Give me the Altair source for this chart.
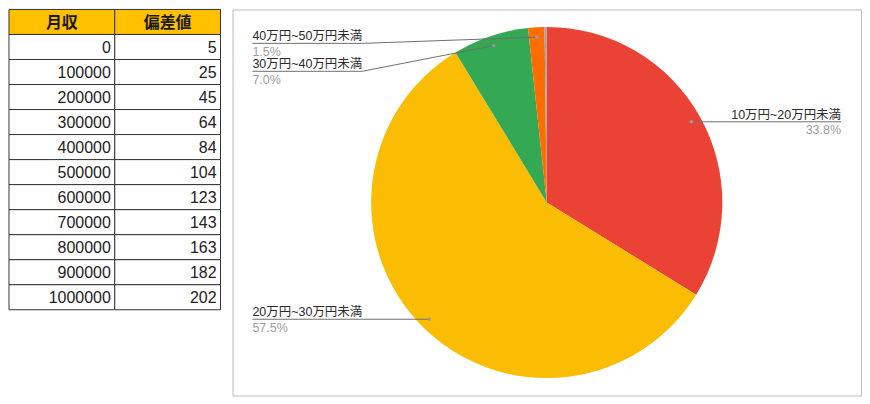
import math
import altair as alt
import pandas as pd

# ---- table data ----
table_headers = ["月収", "偏差値"]
incomes = [0, 100000, 200000, 300000, 400000, 500000, 600000, 700000, 800000, 900000, 1000000]
scores = [5, 25, 45, 64, 84, 104, 123, 143, 163, 182, 202]

# ---- pie data ----
slice_names = ["10万円~20万円未満", "20万円~30万円未満", "30万円~40万円未満", "40万円~50万円未満", "50万円以上"]
slice_values = [33.8, 57.5, 7.0, 1.5, 0.2]
slice_colors = ["#EA4335", "#FBBC04", "#34A853", "#FF6D01", "#A3A3A3"]

FONT = "Liberation Sans, Arial, Noto Sans CJK JP, sans-serif"

# ================= table =================
TW, TH = 212, 301
cells = []
for c, h in enumerate(table_headers):
    cells.append({"row": 0, "col": c, "text": h, "kind": "header"})
for i, (a, b) in enumerate(zip(incomes, scores)):
    cells.append({"row": i + 1, "col": 0, "text": str(a), "kind": "body"})
    cells.append({"row": i + 1, "col": 1, "text": str(b), "kind": "body"})
tdf = pd.DataFrame(cells)

band = alt.Scale(paddingInner=0, paddingOuter=0)
tbase = alt.Chart(tdf)
rects = tbase.mark_rect(stroke="#333333", strokeWidth=1).encode(
    x=alt.X("col:O", scale=band, axis=None),
    y=alt.Y("row:O", scale=band, axis=None),
    fill=alt.Fill("kind:N", scale=alt.Scale(domain=["header", "body"], range=["#FFC000", "#FFFFFF"]), legend=None),
)
htext = tbase.transform_filter("datum.kind == 'header'").mark_text(
    font=FONT, fontSize=16, fontWeight="bold", color="#1a1a1a", baseline="middle", align="center", dy=1
).encode(
    x=alt.X("col:O", scale=band, axis=None, bandPosition=0.5),
    y=alt.Y("row:O", scale=band, axis=None, bandPosition=0.5),
    text="text:N",
)
btext = tbase.transform_filter("datum.kind == 'body'").mark_text(
    font=FONT, fontSize=16, color="#222222", baseline="middle", align="right", dx=-4, dy=1
).encode(
    x=alt.X("col:O", scale=band, axis=None, bandPosition=1),
    y=alt.Y("row:O", scale=band, axis=None, bandPosition=0.5),
    text="text:N",
)
table = alt.layer(rects, htext, btext).properties(
    width=TW, height=TH, view=alt.ViewBackground(strokeWidth=0)
)

# ================= pie =================
PW, PH = 630, 387
cx, cy = PW / 2, PH / 2
R_OUT = 176
R_ANCHOR = 166
total = sum(slice_values)

pie_df = pd.DataFrame({"name": slice_names, "value": slice_values, "idx": list(range(len(slice_names)))})

# label layout derived from the slice values
labels = []
cum = 0.0
for name, v in zip(slice_names, slice_values):
    mid = (cum + v / 2) / total * 2 * math.pi
    cum += v
    if v < 1:
        continue
    dx_ = cx + R_ANCHOR * math.sin(mid)
    dy_ = cy - R_ANCHOR * math.cos(mid)
    side = "right" if math.sin(mid) > 0 else "left"
    labels.append({"name": name, "pct": f"{v / total * 100:.1f}%", "dot_x": dx_, "dot_y": dy_, "side": side})

MARGIN, SEG, GAP, TOPMIN = 20, 110, 28, 34
for side in ("left", "right"):
    prev = None
    for lab in sorted([l for l in labels if l["side"] == side], key=lambda l: l["dot_y"]):
        ly = max(lab["dot_y"], TOPMIN)
        if prev is not None:
            ly = max(ly, prev + GAP)
        lab["ly"] = ly
        prev = ly
        if side == "left":
            lab["lx"] = MARGIN
            lab["sx"] = MARGIN + SEG
        else:
            lab["lx"] = PW - MARGIN
            lab["sx"] = PW - MARGIN - SEG

lab_df = pd.DataFrame(labels)
pts = []
for lab in labels:
    pts.append({"name": lab["name"], "k": 0, "px": lab["lx"], "py": lab["ly"]})
    pts.append({"name": lab["name"], "k": 1, "px": lab["sx"], "py": lab["ly"]})
    pts.append({"name": lab["name"], "k": 2, "px": lab["dot_x"], "py": lab["dot_y"]})
line_df = pd.DataFrame(pts)

xs = alt.Scale(domain=[0, PW], range=[0, PW], nice=False, zero=False)
ys = alt.Scale(domain=[0, PH], range=[0, PH], nice=False, zero=False)

arcs = alt.Chart(pie_df).mark_arc(outerRadius=R_OUT).encode(
    theta=alt.Theta("value:Q", stack=True),
    color=alt.Color("name:N", scale=alt.Scale(domain=slice_names, range=slice_colors), legend=None),
    order=alt.Order("idx:Q"),
)
leaders = alt.Chart(line_df).mark_line(color="#6f6f6f", strokeWidth=1).encode(
    x=alt.X("px:Q", scale=xs, axis=None),
    y=alt.Y("py:Q", scale=ys, axis=None),
    detail="name:N",
    order="k:Q",
)
dots = alt.Chart(lab_df).mark_circle(size=12, color="#9a9a9a", opacity=1).encode(
    x=alt.X("dot_x:Q", scale=xs, axis=None),
    y=alt.Y("dot_y:Q", scale=ys, axis=None),
)

def label_layers(side, align):
    b = alt.Chart(lab_df).transform_filter(f"datum.side == '{side}'")
    enc = dict(
        x=alt.X("lx:Q", scale=xs, axis=None),
        y=alt.Y("ly:Q", scale=ys, axis=None),
    )
    n = b.mark_text(font=FONT, fontSize=12.5, color="#2b2b2b", align=align, baseline="alphabetic", dy=-3).encode(
        text="name:N", **enc)
    p = b.mark_text(font=FONT, fontSize=12.5, color="#9E9E9E", align=align, baseline="alphabetic", dy=12.5).encode(
        text="pct:N", **enc)
    return [n, p]

pie = alt.layer(
    arcs, leaders, dots, *label_layers("left", "left"), *label_layers("right", "right")
).properties(
    width=PW, height=PH, view=alt.ViewBackground(stroke="#BDBDBD", strokeWidth=1)
)

chart = alt.hconcat(table, pie, spacing=10).properties(
    padding={"left": 0, "top": 0, "right": 0, "bottom": 0},
    background="#FFFFFF",
)

chart.save("out.html", embed_options={"renderer": "svg", "actions": False})
